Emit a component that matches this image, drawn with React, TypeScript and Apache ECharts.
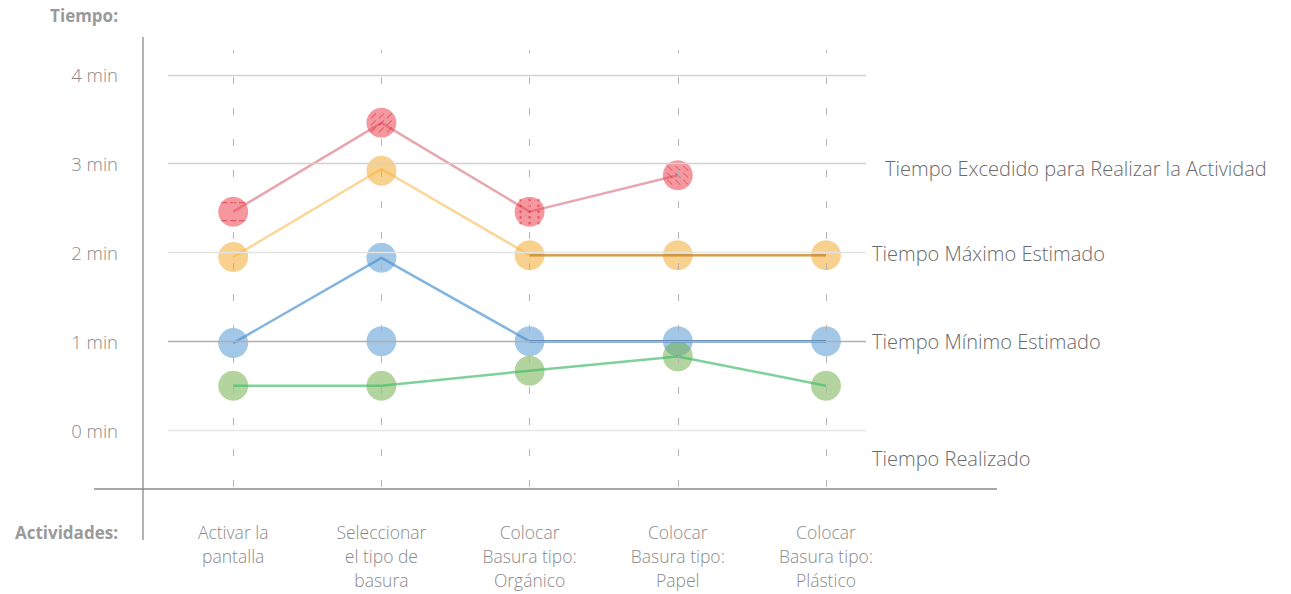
import React, { useEffect, useRef } from "react";
import * as echarts from "echarts";

const categories = [
  "Activar la\npantalla",
  "Seleccionar\nel tipo de\nbasura",
  "Colocar\nBasura tipo:\nOrgánico",
  "Colocar\nBasura tipo:\nPapel",
  "Colocar\nBasura tipo:\nPlástico",
];
const yTicks = [0, 1, 2, 3, 4];
const seriesNames = [
  "Tiempo Excedido para Realizar la Actividad",
  "Tiempo Máximo Estimado",
  "Tiempo Mínimo Estimado",
  "Tiempo Realizado",
];
const excedido = [2.46, 3.46, 2.46, 2.87];
const maximoLine = [1.95, 2.94, 1.97, 1.97, 1.97];
const maximoPts = [1.95, 2.92, 1.97, 1.97, 1.97];
const minimoLine = [0.98, 1.94, 1.0, 1.0, 1.0];
const minimoPts = [0.98, 1.94, 1.0, 1.0, 1.0];
const minimoExtraPts = [null, 1.0, null, null, null];
const realizadoLine = [0.5, 0.5, 0.67, 0.83, 0.5];
const realizadoPts = [0.5, 0.5, 0.67, 0.83, 0.5];

const FONT = "'Open Sans', Lato, sans-serif";

const pairs = (arr: (number | null)[], from = 0) =>
  arr.map((v, i) => (i < from || v === null ? null : [i, v])).filter((d) => d !== null);

// decorative hatch patterns drawn over the red markers
const rectDashes = () => {
  let d = "";
  for (const y of [-9.7, 8.3]) for (const x of [-12, -3, 6]) d += `M${x} ${y}h6v1.4h-6z`;
  return { path: "path://" + d, size: [24, 19.4] };
};
const slashes = (dir: number) => {
  let d = "";
  for (const y of [-7, 0, 7])
    for (const x of [-8, 0, 8]) {
      const a = dir;
      d += `M${x - 2.8} ${y + 2.2 * a}L${x + 2.2} ${y - 2.8 * a}L${x + 2.8} ${y - 2.2 * a}L${x - 2.2} ${y + 2.8 * a}Z`;
    }
  return { path: "path://" + d, size: [21.6, 19.6] };
};
const dots = () => {
  let d = "";
  for (const y of [-11.5, -5.75, 0, 5.75, 11.5])
    for (const x of [-9, 0, 9]) d += `M${x - 1.3} ${y}a1.3 1.3 0 1 0 2.6 0a1.3 1.3 0 1 0 -2.6 0Z`;
  return { path: "path://" + d, size: [20.6, 25.6] };
};
const redPatterns = [rectDashes(), slashes(1), dots(), slashes(-1)];

export default function App() {
  const ref = useRef<HTMLDivElement>(null);
  useEffect(() => {
    if (!ref.current) return;
    const chart = echarts.init(ref.current, undefined, { renderer: "svg" });
    const gridLineColors = ["#e6e6e6", "#b0b0b0", "#e3e3e3", "#d2d2d2", "#d0d0d0"];
    chart.setOption({
      animation: false,
      backgroundColor: "#ffffff",
      grid: { left: 168, right: 425, top: 50, bottom: 107 },
      xAxis: {
        type: "value",
        min: -0.44,
        max: 4.27,
        axisLine: { show: false },
        axisTick: { show: false },
        splitLine: { show: false },
        axisLabel: {
          customValues: categories.map((_, i) => i),
          formatter: (v: number) => categories[Math.round(v)] ?? "",
          color: "#8a8a8a",
          fontFamily: FONT,
          fontWeight: 300,
          fontSize: 17.5,
          lineHeight: 24,
          margin: 33,
          verticalAlign: "top",
          align: "center",
        },
      },
      yAxis: {
        type: "value",
        min: -0.64,
        max: 4.28,
        axisLine: { show: false },
        axisTick: { show: false },
        splitLine: { show: false },
        axisLabel: {
          customValues: yTicks,
          formatter: (v: number) => `${v} min`,
          color: "#8a8a8a",
          fontFamily: FONT,
          fontWeight: 300,
          fontSize: 18.5,
          margin: 50,
        },
      },
      series: [
        {
          type: "line",
          name: "grid",
          data: [],
          silent: true,
          markLine: {
            silent: true,
            symbol: "none",
            label: { show: false },
            data: [
              ...yTicks.map((t, i) => ({
                yAxis: t,
                lineStyle: { color: gridLineColors[i], width: 1.3, type: "solid" },
              })),
              ...categories.map((_, i) => ({
                xAxis: i,
                lineStyle: { color: "#b5b5b5", width: 1, type: [7, 24] },
              })),
            ],
          },
        },
        {
          type: "scatter",
          name: seriesNames[0],
          symbolSize: 30,
          data: pairs(excedido),
          itemStyle: { color: "rgba(238,70,82,0.7)" },
          z: 3,
        },
        {
          type: "scatter",
          name: seriesNames[0] + " trama",
          silent: true,
          data: excedido.map((v, i) => ({
            value: [i, v],
            symbol: redPatterns[i].path,
            symbolSize: redPatterns[i].size,
          })),
          itemStyle: { color: "rgba(205,25,45,0.6)" },
          z: 3,
        },
        {
          type: "scatter",
          name: seriesNames[1],
          symbolSize: 30,
          data: pairs(maximoPts),
          itemStyle: { color: "rgba(244,170,50,0.68)" },
          z: 3,
        },
        {
          type: "scatter",
          name: seriesNames[2],
          symbolSize: 30,
          data: [...pairs(minimoPts), ...pairs(minimoExtraPts)],
          itemStyle: { color: "rgba(91,155,213,0.7)" },
          z: 3,
        },
        {
          type: "scatter",
          name: seriesNames[3],
          symbolSize: 30,
          data: pairs(realizadoPts),
          itemStyle: { color: "rgba(112,173,71,0.66)" },
          z: 3,
        },
        {
          type: "line",
          name: seriesNames[0] + " línea",
          data: pairs(excedido),
          showSymbol: false,
          lineStyle: { color: "rgba(205,80,95,0.5)", width: 2.5 },
          z: 2,
        },
        {
          type: "line",
          name: seriesNames[1] + " línea",
          data: pairs(maximoLine),
          showSymbol: false,
          lineStyle: { color: "rgba(248,180,60,0.55)", width: 2.5 },
          z: 4,
        },
        {
          type: "line",
          name: seriesNames[1] + " línea 2",
          data: pairs(maximoLine, 2),
          showSymbol: false,
          lineStyle: { color: "rgba(185,125,40,0.6)", width: 2.5 },
          z: 4,
        },
        {
          type: "line",
          name: seriesNames[2] + " línea",
          data: pairs(minimoLine),
          showSymbol: false,
          lineStyle: { color: "rgba(80,150,210,0.7)", width: 2.5 },
          z: 4,
        },
        {
          type: "line",
          name: seriesNames[2] + " línea 2",
          data: pairs(minimoLine, 2),
          showSymbol: false,
          lineStyle: { color: "rgba(50,110,180,0.6)", width: 2.5 },
          z: 4,
        },
        {
          type: "line",
          name: seriesNames[3] + " línea",
          data: pairs(realizadoLine),
          showSymbol: false,
          lineStyle: { color: "rgba(70,190,110,0.7)", width: 2.5 },
          z: 4,
        },
      ],
      graphic: [
        { type: "line", shape: { x1: 143, y1: 37, x2: 143, y2: 540 }, style: { stroke: "#8a8a8a", lineWidth: 1.3 } },
        { type: "line", shape: { x1: 94, y1: 489, x2: 997, y2: 489 }, style: { stroke: "#8a8a8a", lineWidth: 1.3 } },
        {
          type: "text",
          x: 118,
          y: 15,
          style: { text: "Tiempo:", fill: "#9a9a9a", font: `bold 17px ${FONT}`, align: "right", verticalAlign: "middle" },
        },
        {
          type: "text",
          x: 118,
          y: 532,
          style: { text: "Actividades:", fill: "#9a9a9a", font: `bold 17px ${FONT}`, align: "right", verticalAlign: "middle" },
        },
        {
          type: "text",
          x: 885,
          y: 168,
          style: { text: seriesNames[0], fill: "#6a6a6a", font: `300 20px ${FONT}`, verticalAlign: "middle" },
        },
        {
          type: "text",
          x: 872,
          y: 253,
          style: { text: seriesNames[1], fill: "#6a6a6a", font: `300 20px ${FONT}`, verticalAlign: "middle" },
        },
        {
          type: "text",
          x: 872,
          y: 341,
          style: { text: seriesNames[2], fill: "#6a6a6a", font: `300 20px ${FONT}`, verticalAlign: "middle" },
        },
        {
          type: "text",
          x: 872,
          y: 458,
          style: { text: seriesNames[3], fill: "#6a6a6a", font: `300 20px ${FONT}`, verticalAlign: "middle" },
        },
      ],
    });
    return () => chart.dispose();
  }, []);
  return (
    <div
      ref={ref}
      style={{ position: "fixed", left: 0, top: 0, width: 1291, height: 594, background: "#fff" }}
    />
  );
}
